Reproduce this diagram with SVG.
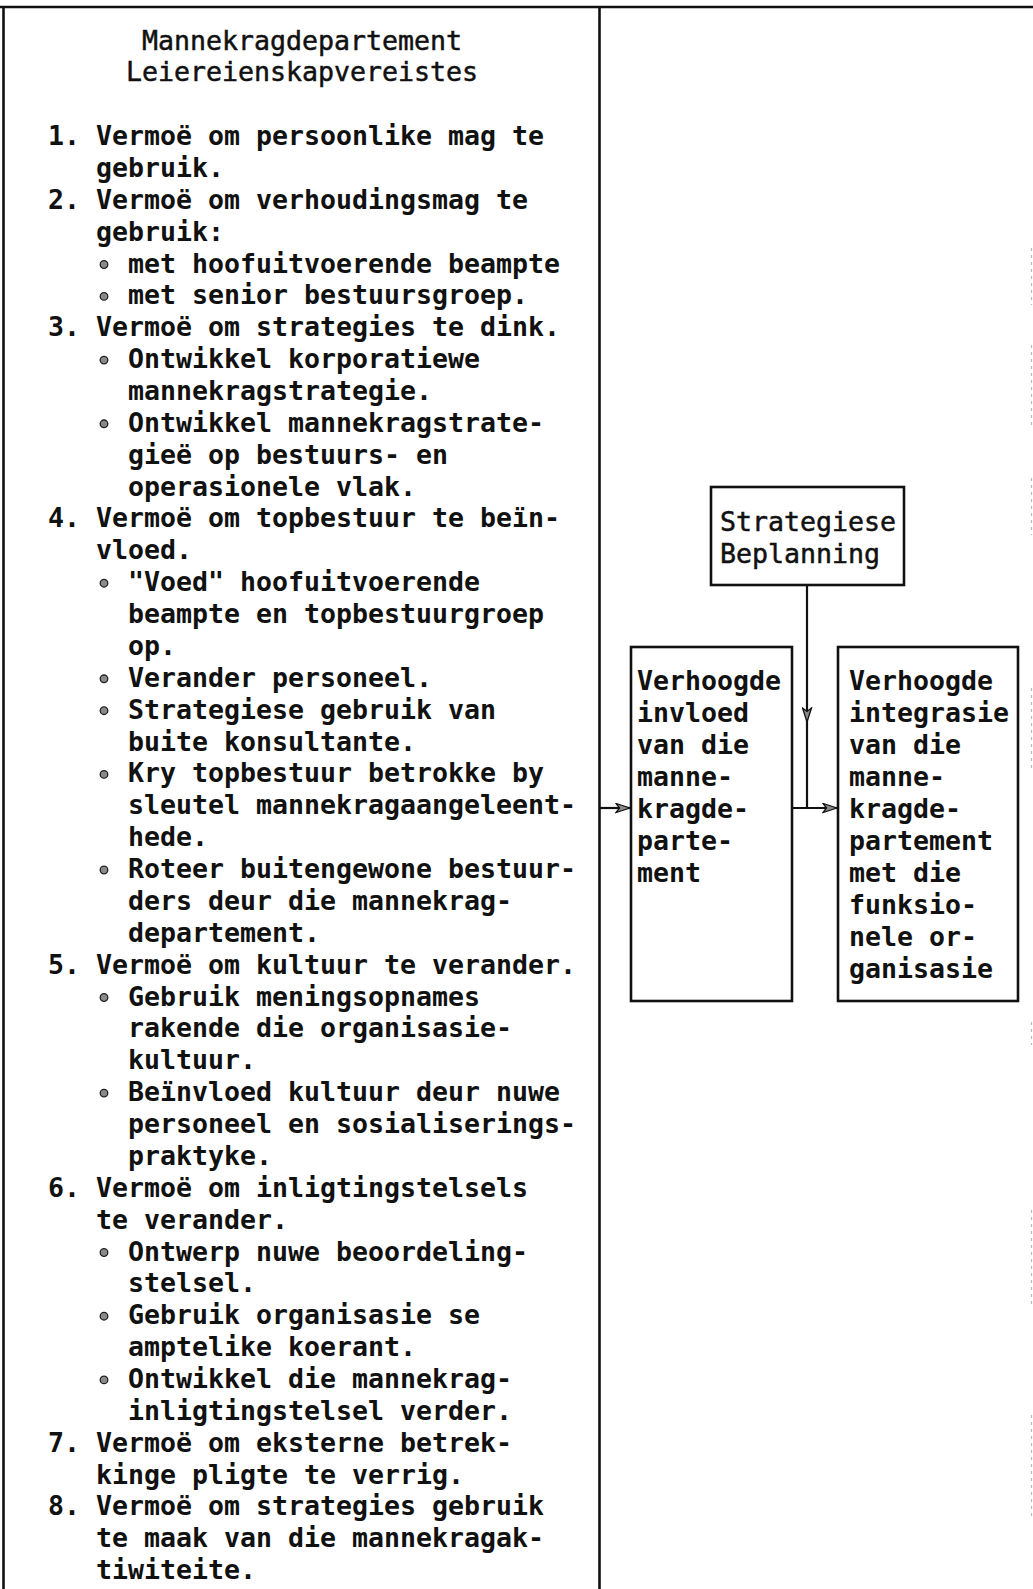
<svg xmlns="http://www.w3.org/2000/svg" width="1033" height="1589" viewBox="0 0 1033 1589">
  <style>
    text { font-family: "DejaVu Sans Mono", "Liberation Mono", monospace; font-size: 26.58px; fill: #111; }
    .heavy { font-weight: bold; }
    .medium { stroke: #111; stroke-width: 0.5; }
    .title { text-anchor: middle; }
    .frame { fill: none; stroke: #111; stroke-width: 2.6; }
    .box { fill: #fff; stroke: #111; stroke-width: 2.6; }
    .dot { fill: #8a8a8a; stroke: #222; stroke-width: 1.3; }
    .link { fill: none; stroke: #111; stroke-width: 2.2; }
    .edge { fill: none; stroke: #bbb; stroke-width: 1.2; stroke-dasharray: 3 4; }
  </style>
  <defs>
    <marker id="arrow" markerUnits="userSpaceOnUse" markerWidth="16" markerHeight="11" refX="15" refY="5.5" orient="auto" viewBox="0 0 16 11">
      <path d="M1,1 L15,5.5 L1,10 L4.5,5.5 Z" fill="#8a8a8a" stroke="#111" stroke-width="1.3"/>
    </marker>
  </defs>

  <rect width="1033" height="1589" fill="#fff"/>

  <!-- page frame: top rule, left rule, column divider -->
  <g id="frame">
    <path class="frame" d="M0,7 L1033,7"/>
    <path class="frame" d="M3.5,7 L3.5,1589"/>
    <path class="frame" d="M599.5,7 L599.5,1589"/>
    <path class="edge" d="M1031.5,248 L1031.5,305 M1031.5,345 L1031.5,425 M1031.5,478 L1031.5,535 M1031.5,688 L1031.5,770 M1031.5,1022 L1031.5,1045 M1031.5,1210 L1031.5,1305 M1031.5,1415 L1031.5,1520"/>
  </g>

  <!-- left column: requirements list -->
  <g id="requirements">
    <text class="title medium" x="302" y="50">Mannekragdepartement</text>
    <text class="title medium" x="302" y="81">Leiereienskapvereistes</text>

    <g class="heavy">
      <text x="48" y="145.0">1. Vermoë om persoonlike mag te</text>
      <text x="96" y="176.9">gebruik.</text>
      <text x="48" y="208.7">2. Vermoë om verhoudingsmag te</text>
      <text x="96" y="240.6">gebruik:</text>
      <text x="128" y="272.5">met hoofuitvoerende beampte</text>
      <text x="128" y="304.4">met senior bestuursgroep.</text>
      <text x="48" y="336.2">3. Vermoë om strategies te dink.</text>
      <text x="128" y="368.1">Ontwikkel korporatiewe</text>
      <text x="128" y="400.0">mannekragstrategie.</text>
      <text x="128" y="431.8">Ontwikkel mannekragstrate-</text>
      <text x="128" y="463.7">gieë op bestuurs- en</text>
      <text x="128" y="495.6">operasionele vlak.</text>
      <text x="48" y="527.4">4. Vermoë om topbestuur te beïn-</text>
      <text x="96" y="559.3">vloed.</text>
      <text x="128" y="591.2">"Voed" hoofuitvoerende</text>
      <text x="128" y="623.1">beampte en topbestuurgroep</text>
      <text x="128" y="654.9">op.</text>
      <text x="128" y="686.8">Verander personeel.</text>
      <text x="128" y="718.7">Strategiese gebruik van</text>
      <text x="128" y="750.5">buite konsultante.</text>
      <text x="128" y="782.4">Kry topbestuur betrokke by</text>
      <text x="128" y="814.3">sleutel mannekragaangeleent-</text>
      <text x="128" y="846.1">hede.</text>
      <text x="128" y="878.0">Roteer buitengewone bestuur-</text>
      <text x="128" y="909.9">ders deur die mannekrag-</text>
      <text x="128" y="941.8">departement.</text>
      <text x="48" y="973.6">5. Vermoë om kultuur te verander.</text>
      <text x="128" y="1005.5">Gebruik meningsopnames</text>
      <text x="128" y="1037.4">rakende die organisasie-</text>
      <text x="128" y="1069.2">kultuur.</text>
      <text x="128" y="1101.1">Beïnvloed kultuur deur nuwe</text>
      <text x="128" y="1133.0">personeel en sosialiserings-</text>
      <text x="128" y="1164.8">praktyke.</text>
      <text x="48" y="1196.7">6. Vermoë om inligtingstelsels</text>
      <text x="96" y="1228.6">te verander.</text>
      <text x="128" y="1260.5">Ontwerp nuwe beoordeling-</text>
      <text x="128" y="1292.3">stelsel.</text>
      <text x="128" y="1324.2">Gebruik organisasie se</text>
      <text x="128" y="1356.1">amptelike koerant.</text>
      <text x="128" y="1387.9">Ontwikkel die mannekrag-</text>
      <text x="128" y="1419.8">inligtingstelsel verder.</text>
      <text x="48" y="1451.7">7. Vermoë om eksterne betrek-</text>
      <text x="96" y="1483.5">kinge pligte te verrig.</text>
      <text x="48" y="1515.4">8. Vermoë om strategies gebruik</text>
      <text x="96" y="1547.3">te maak van die mannekragak-</text>
      <text x="96" y="1579.2">tiwiteite.</text>
    </g>

    <!-- bullet markers -->
    <g>
      <circle class="dot" cx="104" cy="264.5" r="3.8"/>
      <circle class="dot" cx="104" cy="296.4" r="3.8"/>
      <circle class="dot" cx="104" cy="360.1" r="3.8"/>
      <circle class="dot" cx="104" cy="423.8" r="3.8"/>
      <circle class="dot" cx="104" cy="583.2" r="3.8"/>
      <circle class="dot" cx="104" cy="678.8" r="3.8"/>
      <circle class="dot" cx="104" cy="710.7" r="3.8"/>
      <circle class="dot" cx="104" cy="774.4" r="3.8"/>
      <circle class="dot" cx="104" cy="870.0" r="3.8"/>
      <circle class="dot" cx="104" cy="997.5" r="3.8"/>
      <circle class="dot" cx="104" cy="1093.1" r="3.8"/>
      <circle class="dot" cx="104" cy="1252.5" r="3.8"/>
      <circle class="dot" cx="104" cy="1316.2" r="3.8"/>
      <circle class="dot" cx="104" cy="1379.9" r="3.8"/>
    </g>
  </g>

  <!-- connectors -->
  <g id="connectors">
    <path class="link" d="M807,585 L807,722 L807,808" marker-mid="url(#arrow)"/>
    <path class="link" d="M792,808 L837,808" marker-end="url(#arrow)"/>
    <path class="link" d="M599.5,808 L630,808" marker-end="url(#arrow)"/>
  </g>

  <g id="strategic-planning">
    <rect class="box" x="711" y="487" width="193" height="98"/>
    <text class="medium" x="720" y="531">Strategiese</text>
    <text class="medium" x="720" y="563">Beplanning</text>
  </g>

  <g id="increased-influence">
    <rect class="box" x="631" y="647" width="161" height="354"/>
    <g class="heavy">
      <text x="637" y="690">Verhoogde</text>
      <text x="637" y="722">invloed</text>
      <text x="637" y="754">van die</text>
      <text x="637" y="786">manne-</text>
      <text x="637" y="818">kragde-</text>
      <text x="637" y="850">parte-</text>
      <text x="637" y="882">ment</text>
    </g>
  </g>

  <g id="increased-integration">
    <rect class="box" x="838" y="647" width="180" height="354"/>
    <g class="heavy">
      <text x="849" y="690">Verhoogde</text>
      <text x="849" y="722">integrasie</text>
      <text x="849" y="754">van die</text>
      <text x="849" y="786">manne-</text>
      <text x="849" y="818">kragde-</text>
      <text x="849" y="850">partement</text>
      <text x="849" y="882">met die</text>
      <text x="849" y="914">funksio-</text>
      <text x="849" y="946">nele or-</text>
      <text x="849" y="978">ganisasie</text>
    </g>
  </g>
</svg>
